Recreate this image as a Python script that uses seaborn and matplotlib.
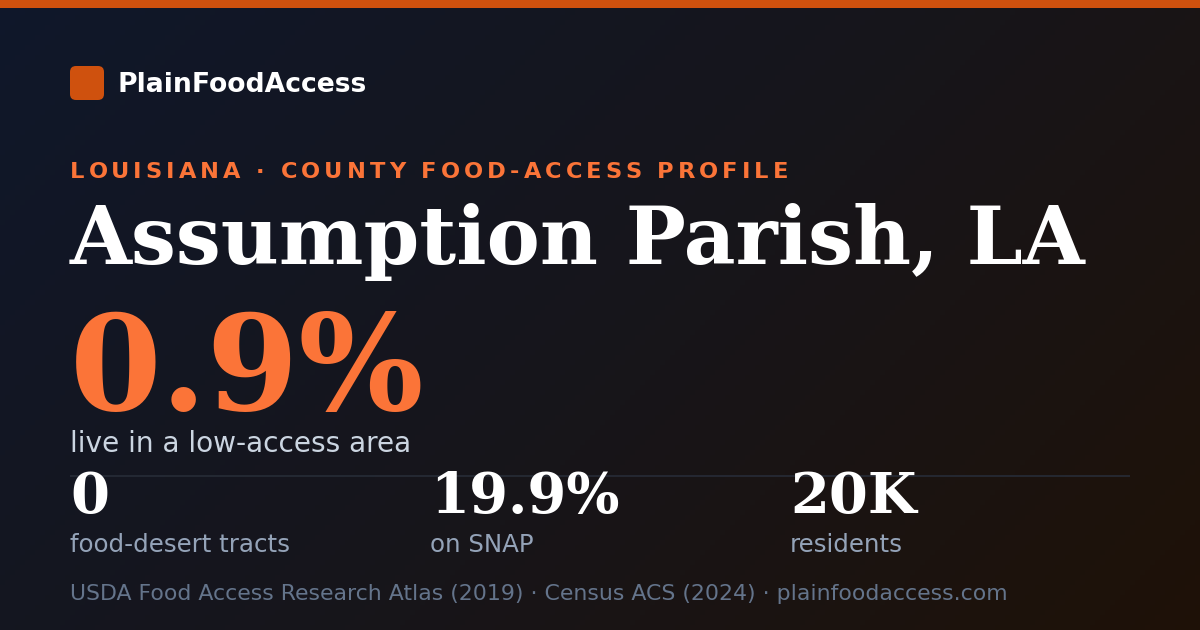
import numpy as np
import matplotlib
matplotlib.use("Agg")
import matplotlib.pyplot as plt
from matplotlib.colors import LinearSegmentedColormap
from matplotlib.patches import FancyBboxPatch, Rectangle
import seaborn as sns

# ---- data ----
brand = "PlainFoodAccess"
kicker = "LOUISIANA · COUNTY FOOD-ACCESS PROFILE"
title = "Assumption Parish, LA"
headline_value = "0.9%"
headline_label = "live in a low-access area"
stat_values = ["0", "19.9%", "20K"]
stat_labels = ["food-desert tracts", "on SNAP", "residents"]
footer = "USDA Food Access Research Atlas (2019) · Census ACS (2024) · plainfoodaccess.com"

# ---- style ----
W, H, DPI = 1200, 630, 100
ORANGE = "#fb7438"
ORANGE_DARK = "#cf510e"
WHITE = "#ffffff"
SLATE300 = "#cbd5e1"
SLATE400 = "#94a3b8"
SLATE500 = "#64748b"

sns.set_theme(style="dark")
plt.rcParams["font.family"] = ["DejaVu Sans"]

fig = plt.figure(figsize=(W / DPI, H / DPI), dpi=DPI)

# background gradient (135deg) via seaborn heatmap
gh, gw = 126, 240
yy, xx = np.mgrid[0:gh, 0:gw]
px = (xx + 0.5) * W / gw
py = (yy + 0.5) * H / gh
L = (W + H) * np.sqrt(0.5)
t = ((px - W / 2) * np.sqrt(0.5) + (py - H / 2) * np.sqrt(0.5)) / L + 0.5
cmap = LinearSegmentedColormap.from_list(
    "bg", [(0.0, "#0f172a"), (0.5, "#16151b"), (1.0, "#1e1107")])
bg = fig.add_axes([0, 0, 1, 1])
sns.heatmap(t, ax=bg, cmap=cmap, vmin=0, vmax=1, cbar=False,
            xticklabels=False, yticklabels=False, linewidths=0, rasterized=True)
bg.set_axis_off()

ax = fig.add_axes([0, 0, 1, 1])
ax.set_xlim(0, W)
ax.set_ylim(H, 0)
ax.set_axis_off()
ax.patch.set_alpha(0)

fig.canvas.draw()
renderer = fig.canvas.get_renderer()


def text_width(s, size, **kw):
    tt = ax.text(0, 0, s, fontsize=size, **kw)
    w = tt.get_window_extent(renderer).width
    tt.remove()
    return w


def fit_size(s, target_w, **kw):
    return 10 * target_w / text_width(s, 10, **kw)


def fit_text(x, y, s, target_w, **kw):
    size = fit_size(s, target_w, **kw)
    return ax.text(x, y, s, fontsize=size, va="baseline", ha="left", **kw)


# top bar
ax.add_patch(Rectangle((0, 0), W, 8, color=ORANGE_DARK, lw=0))

# logo
ax.add_patch(FancyBboxPatch((70, 66), 34, 34,
                            boxstyle="round,pad=0,rounding_size=6",
                            fc=ORANGE_DARK, ec="none"))
fit_text(118, 92, brand, 250, color=WHITE, fontweight="bold")

# kicker with letter spacing
ksize = 22.5 * 0.72
kkw = dict(fontweight="bold", color=ORANGE)
ref = text_width("x", ksize, **kkw)
prefix_w = [text_width(kicker[:i] + "x", ksize, **kkw) - ref if i > 0 else 0.0
            for i in range(len(kicker) + 1)]
natural = prefix_w[-1]
spacing = (718 - natural) / (len(kicker) - 1)
for i, ch in enumerate(kicker):
    ax.text(70 + prefix_w[i] + i * spacing, 178, ch, fontsize=ksize,
            va="baseline", ha="left", **kkw)

# title
fit_text(70, 264, title, 1017, color=WHITE, fontweight="bold", family="DejaVu Serif")

# headline
fit_text(70, 410, headline_value, 355, color=ORANGE, fontweight="bold", family="DejaVu Serif")
fit_text(70, 452, headline_label, 342, color=SLATE300)

# separator
ax.plot([70, 1130], [475.5, 475.5], color="#272c37", lw=1.2, solid_capstyle="butt")

# stats
stat_x = [70, 430, 790]
val_size = fit_size(stat_values[1], 190, fontweight="bold", family="DejaVu Serif")
lab_size = fit_size(stat_labels[0], 220)
for x, v, lab in zip(stat_x, stat_values, stat_labels):
    ax.text(x, 513, v, fontsize=val_size, fontweight="bold", family="DejaVu Serif",
            color=WHITE, va="baseline", ha="left")
    ax.text(x, 552, lab, fontsize=lab_size, color=SLATE400, va="baseline", ha="left")

# footer
fit_text(70, 600, footer, 936, color=SLATE500)

fig.savefig("out.png", dpi=DPI)
